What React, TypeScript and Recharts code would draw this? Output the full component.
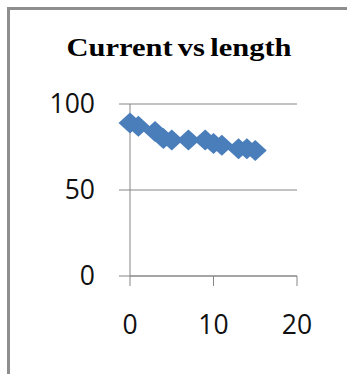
import { ScatterChart, Scatter, XAxis, YAxis, CartesianGrid } from "recharts";

// length vs measured current
const lengths = [0, 1, 3, 4, 5, 7, 9, 10, 11, 13, 14, 15];
const currents = [89, 87, 84, 80, 79, 79, 79, 77, 76, 74, 74, 73];
const xTicks = [0, 10, 20];
const yTicks = [0, 50, 100];

const data = lengths.map((x, i) => ({ x, y: currents[i] }));

const AXIS = "#868686";
const MARK = "#4a7ebb";
const tickFont = { fill: "#111", fontSize: 26.5, fontFamily: "'Open Sans', sans-serif" };

function Diamond(props: any) {
  const { cx, cy } = props;
  if (cx == null || cy == null) return null;
  const w = 11.5;
  const h = 10.5;
  return (
    <polygon
      points={`${cx - w},${cy} ${cx},${cy - h} ${cx + w},${cy} ${cx},${cy + h}`}
      fill={MARK}
    />
  );
}

export default function App() {
  return (
    <div style={{ position: "absolute", left: 0, top: 0, width: 347, height: 374, overflow: "hidden", background: "#fff" }}>
      <div
        style={{
          position: "absolute",
          left: 7,
          top: 7,
          width: 400,
          height: 420,
          border: "3px solid #8e8e8e",
        }}
      />
      <div
        style={{
          position: "absolute",
          left: 29,
          top: 35,
          width: 300,
          textAlign: "center",
          lineHeight: "25px",
          fontSize: 25,
          fontWeight: "bold",
          fontFamily: "'Liberation Serif', serif",
          color: "#000",
          transform: "scaleX(1.22)",
          wordSpacing: -2,
          whiteSpace: "nowrap",
        }}
      >
        Current vs length
      </div>
      <div style={{ position: "absolute", left: 0, top: 0 }}>
        <ScatterChart width={347} height={374} margin={{ top: 104, right: 50, bottom: 38, left: 0 }}>
          <CartesianGrid vertical={false} stroke={AXIS} />
          <XAxis
            type="number"
            dataKey="x"
            domain={[0, 20]}
            ticks={xTicks}
            interval={0}
            height={60}
            tickSize={10}
            tickMargin={29}
            axisLine={{ stroke: AXIS }}
            tickLine={{ stroke: AXIS }}
            tick={tickFont}
          />
          <YAxis
            type="number"
            dataKey="y"
            domain={[0, 100]}
            ticks={yTicks}
            interval={0}
            width={130}
            tickSize={11}
            tickMargin={24}
            axisLine={{ stroke: AXIS }}
            tickLine={{ stroke: AXIS }}
            tick={tickFont}
          />
          <Scatter data={data} shape={<Diamond />} isAnimationActive={false} />
        </ScatterChart>
      </div>
    </div>
  );
}
